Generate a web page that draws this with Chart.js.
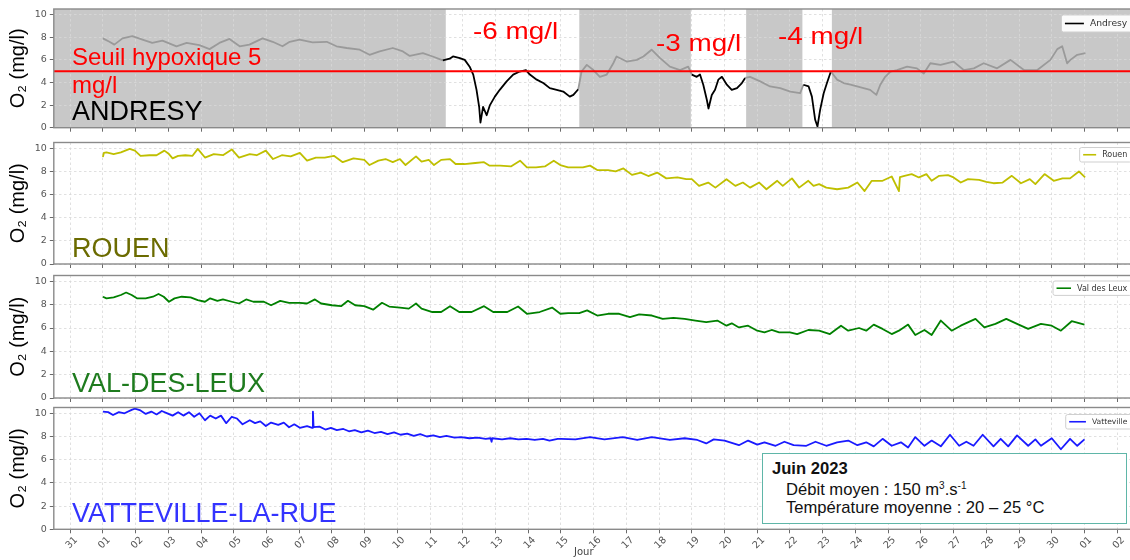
<!DOCTYPE html>
<html lang="fr">
<head>
<meta charset="utf-8">
<title>Oxygène dissous – Seine, juin 2023</title>
<script src="https://cdn.jsdelivr.net/npm/chart.js@4.4.1/dist/chart.umd.min.js"></script>
<style>
  html, body { margin: 0; padding: 0; background: #fff; }
  body { width: 1130px; height: 560px; overflow: hidden; position: relative;
         font-family: "Liberation Sans", Arial, sans-serif; }
  canvas.panel { position: absolute; left: 0; }
  .txt { position: absolute; white-space: nowrap; line-height: 1; }
  .station { font-size: 27px; }
  .red { color: #ff0000; font-size: 24px; }
  .drop { transform: scaleX(1.16); transform-origin: 0 0; }
  #info { position: absolute; left: 762px; top: 453px; width: 363px; height: 69px;
          border: 1.6px solid #5fb6a8; background: #fff; }
  #info .txt { font-size: 16.6px; color: #111; }
  .sup { position: relative; top: -6px; font-size: 10px; }
  #jour { font-family: "DejaVu Sans", sans-serif; font-size: 10px; color: #444; }
</style>
</head>
<body>
<canvas id="p1" class="panel" width="1140" height="136" style="top:0px"></canvas>
<canvas id="p2" class="panel" width="1140" height="140" style="top:134px"></canvas>
<canvas id="p3" class="panel" width="1140" height="141" style="top:267px"></canvas>
<canvas id="p4" class="panel" width="1140" height="162" style="top:398px"></canvas>

<div class="txt red" style="left:72px; top:44.7px">Seuil hypoxique 5</div>
<div class="txt red" style="left:72px; top:72.7px">mg/l</div>
<div class="txt station" style="left:72px; top:98.1px; color:#000">ANDRESY</div>
<div class="txt red drop" style="left:473px; top:18.6px">-6 mg/l</div>
<div class="txt red drop" style="left:656px; top:31px">-3 mg/l</div>
<div class="txt red drop" style="left:778px; top:24px">-4 mg/l</div>

<div class="txt station" style="left:72px; top:235.1px; color:#6b6b00">ROUEN</div>
<div class="txt station" style="left:72px; top:369.6px; color:#1e7b1e">VAL-DES-LEUX</div>
<div class="txt station" style="left:72px; top:500.4px; color:#3333ff">VATTEVILLE-LA-RUE</div>

<div id="info">
  <div class="txt" style="left:9px; top:7.4px; font-weight:bold">Juin 2023</div>
  <div class="txt" style="left:23px; top:27.8px">Débit moyen : 150 m<span class="sup">3</span>.s<span class="sup">-1</span></div>
  <div class="txt" style="left:23px; top:45.8px">Température moyenne : 20 – 25 °C</div>
</div>
<div id="jour" class="txt" style="left:574px; top:547px">Jour</div>

<script>
// ---- day axis: tick labels for days -1 (31 May) to 31 (2 July), x = days since 1 June 00:00
const dayLabels = ['31','01','02','03','04','05','06','07','08','09','10','11','12','13','14','15',
  '16','17','18','19','20','21','22','23','24','25','26','27','28','29','30','01','02'];

// ---- hypoxic threshold and hypoxic episodes at Andresy (start day, end day)
const hypoxiaThreshold = 5;
const hypoxiaWindows = [[10.48, 14.56], [17.97, 19.66], [21.38, 22.28]];

// ---- dissolved oxygen series, [day, O2 mg/l]
const andresySeries = [
  [0,7.9],[0.2,7.6],[0.35,7.35],[0.6,7.9],[0.9,8.1],[1.21,7.8],[1.51,7.5],[1.82,7.7],[2.25,7.2],[2.56,7.5],
  [2.95,7.3],[3.26,6.95],[3.56,7.5],[3.87,7.85],[4.18,7.2],[4.48,7.35],[4.88,7.9],[5.19,7.6],[5.49,7.2],[5.71,7.6],
  [6.01,7.8],[6.41,7.55],[6.84,7.6],[7.14,7.2],[7.45,7.05],[7.85,6.9],[8.15,6.45],[8.46,6.75],[8.86,7.05],[9.17,6.75],
  [9.38,6.35],[9.78,6.6],[10.08,6.3],[10.39,5.95],[10.6,6.1],[10.7,6.3],[10.91,6.15],[11.06,6.0],[11.21,5.4],[11.32,4.7],
  [11.42,3.35],[11.5,1.85],[11.54,0.45],[11.62,1.85],[11.73,1.1],[11.83,2.0],[11.98,2.75],[12.13,3.35],[12.34,4.1],[12.54,4.7],
  [12.74,4.97],[12.93,5.1],[13.05,4.7],[13.26,4.25],[13.46,3.95],[13.66,3.5],[13.87,3.35],[14.07,3.2],[14.27,2.75],[14.38,2.9],
  [14.53,3.4],[14.63,4.97],[14.79,5.56],[14.99,5.1],[15.19,4.5],[15.4,4.7],[15.6,5.7],[15.7,6.3],[16.01,5.85],[16.32,6.0],
  [16.52,6.3],[16.77,6.9],[17.03,6.15],[17.33,5.4],[17.64,5.1],[17.89,5.4],[18.0,4.7],[18.15,4.5],[18.25,4.7],[18.35,3.8],
  [18.46,2.45],[18.51,1.7],[18.61,2.9],[18.71,3.35],[18.81,4.25],[18.92,4.5],[19.07,3.8],[19.22,3.35],[19.38,3.5],[19.53,3.95],
  [19.63,4.4],[19.78,4.5],[20.09,4.1],[20.39,3.65],[20.7,3.5],[21.01,3.2],[21.31,3.05],[21.41,3.8],[21.57,3.65],[21.67,2.75],
  [21.77,0.7],[21.84,0.1],[21.92,1.55],[22.03,3.05],[22.13,3.95],[22.25,4.97],[22.44,4.25],[22.64,3.95],[22.85,3.8],[23.05,3.65],
  [23.25,3.5],[23.45,3.35],[23.64,2.9],[23.76,3.8],[23.91,4.5],[24.07,4.97],[24.27,5.1],[24.58,5.4],[24.88,5.25],[25.09,4.8],
  [25.29,5.7],[25.6,5.56],[26.0,5.85],[26.31,5.1],[26.62,5.25],[26.92,5.7],[27.33,5.25],[27.74,6.0],[28.15,5.1],[28.56,5.1],
  [28.96,6.0],[29.17,6.95],[29.32,7.2],[29.47,5.7],[29.57,6.0],[29.78,6.45],[30.03,6.6]
];

const rouenSeries = [
  [0,9.25],[0.03,9.6],[0.11,9.65],[0.33,9.5],[0.55,9.65],[0.82,9.95],[0.98,9.8],[1.15,9.35],[1.42,9.4],[1.64,9.4],
  [1.88,9.8],[2.02,9.5],[2.13,9.13],[2.3,9.35],[2.52,9.4],[2.74,9.35],[2.9,9.95],[3.12,9.2],[3.39,9.5],[3.67,9.4],
  [3.94,9.9],[4.16,9.2],[4.49,9.5],[4.7,9.4],[4.98,9.8],[5.2,9.07],[5.47,9.4],[5.74,9.3],[6.02,9.6],[6.24,8.93],
  [6.51,9.2],[6.78,9.2],[7.06,9.35],[7.33,8.8],[7.66,9.13],[7.99,9.0],[8.15,8.55],[8.42,8.93],[8.64,9.07],[8.86,8.8],
  [9.08,9.07],[9.25,8.55],[9.57,9.3],[9.74,8.84],[9.96,9.0],[10.12,8.55],[10.34,9.0],[10.61,9.07],[10.78,8.64],[11.05,8.64],
  [11.38,8.73],[11.65,8.8],[11.82,8.5],[12.14,8.5],[12.47,8.43],[12.75,8.93],[12.96,8.35],[13.24,8.35],[13.51,8.43],[13.78,8.93],
  [13.98,8.55],[14.22,8.35],[14.44,8.35],[14.67,8.35],[14.89,8.5],[15.11,8.12],[15.44,8.12],[15.67,8.0],[15.91,8.26],[16.17,7.7],
  [16.44,7.9],[16.67,7.6],[16.94,7.9],[17.22,7.4],[17.56,7.48],[17.83,7.33],[18.0,7.33],[18.22,6.75],[18.5,7.04],[18.72,6.6],
  [19.06,7.33],[19.33,6.75],[19.56,7.04],[19.78,6.6],[20.06,7.04],[20.28,6.46],[20.61,7.19],[20.78,6.75],[21.06,7.4],[21.28,6.6],
  [21.56,7.19],[21.72,6.75],[21.89,6.9],[22.11,6.6],[22.44,6.46],[22.78,6.6],[23.06,7.04],[23.28,6.3],[23.5,7.19],[23.83,7.19],
  [24.11,7.56],[24.33,6.3],[24.36,7.5],[24.5,7.62],[24.72,7.77],[24.94,7.48],[25.17,7.77],[25.33,7.19],[25.56,7.62],[25.83,7.68],
  [26.0,7.48],[26.22,7.04],[26.44,7.33],[26.78,7.27],[27.0,7.1],[27.22,6.98],[27.5,7.04],[27.78,7.62],[28.06,6.98],[28.33,7.33],
  [28.5,6.9],[28.78,7.77],[29.06,7.19],[29.33,7.4],[29.56,7.4],[29.83,8.0],[30.02,7.48]
];

const valDesLeuxSeries = [
  [0,8.68],[0.11,8.54],[0.33,8.63],[0.55,8.83],[0.71,9.04],[0.88,8.83],[1.04,8.54],[1.31,8.54],[1.53,8.68],[1.7,8.92],
  [1.86,8.68],[2.02,8.25],[2.19,8.54],[2.41,8.68],[2.68,8.63],[2.9,8.39],[3.12,8.25],[3.28,8.54],[3.5,8.33],[3.67,8.45],
  [3.94,8.25],[4.16,8.1],[4.38,8.45],[4.6,8.25],[4.92,8.25],[5.14,7.95],[5.42,8.33],[5.69,8.16],[6.02,8.16],[6.24,8.1],
  [6.48,8.45],[6.67,8.1],[7.0,7.95],[7.28,7.87],[7.49,8.33],[7.71,7.95],[7.99,7.87],[8.26,7.57],[8.53,8.16],[8.75,7.84],
  [9.08,7.75],[9.35,7.66],[9.57,8.1],[9.74,7.66],[10.07,7.37],[10.34,7.37],[10.61,7.87],[10.89,7.37],[11.27,7.37],[11.65,7.87],
  [11.93,7.37],[12.36,7.37],[12.69,7.84],[12.96,7.22],[13.35,7.37],[13.73,7.75],[13.98,7.22],[14.22,7.28],[14.56,7.28],[14.8,7.51],
  [15.11,7.07],[15.44,7.22],[15.78,7.22],[16.11,6.93],[16.39,7.16],[16.78,7.07],[17.11,6.78],[17.44,6.87],[17.78,6.78],[18.11,6.64],
  [18.44,6.5],[18.78,6.64],[19.06,6.2],[19.22,6.4],[19.44,6.05],[19.72,6.2],[20.0,5.77],[20.22,5.63],[20.44,5.83],[20.67,5.63],
  [21.0,5.63],[21.22,5.48],[21.56,5.83],[21.89,5.77],[22.22,5.48],[22.56,6.2],[22.78,5.77],[23.11,6.0],[23.33,5.77],[23.56,6.29],
  [23.83,5.92],[24.11,5.48],[24.33,5.77],[24.61,6.29],[24.83,5.4],[25.11,5.83],[25.33,5.4],[25.61,6.64],[25.94,5.77],[26.22,6.2],
  [26.67,6.78],[26.94,6.05],[27.28,6.35],[27.61,6.78],[27.94,6.35],[28.28,5.92],[28.67,6.35],[29.0,6.2],[29.28,5.77],[29.61,6.58],
  [30.0,6.29]
];

const vattevilleSeries = [
  [0,10.15],[0.16,10.1],[0.31,9.85],[0.49,10.1],[0.66,10.0],[0.88,10.3],[0.98,10.4],[1.15,10.25],[1.31,9.95],[1.48,10.15],
  [1.64,9.9],[1.8,10.2],[1.97,10.0],[2.13,9.8],[2.3,10.1],[2.46,9.8],[2.63,10.1],[2.79,9.7],[2.95,10.0],[3.12,9.4],
  [3.28,9.8],[3.45,9.55],[3.61,9.8],[3.77,9.15],[3.94,9.7],[4.1,9.55],[4.27,9.05],[4.49,9.4],[4.65,9.15],[4.81,9.3],
  [4.98,8.9],[5.14,9.2],[5.36,9.0],[5.53,9.2],[5.69,8.8],[5.85,9.05],[6.02,8.75],[6.24,8.9],[6.4,8.75],[6.42,10.15],
  [6.44,8.8],[6.62,8.85],[6.8,8.6],[6.97,8.75],[7.15,8.55],[7.35,8.65],[7.52,8.45],[7.7,8.55],[7.9,8.35],[8.1,8.5],
  [8.3,8.3],[8.5,8.4],[8.7,8.2],[8.9,8.35],[9.1,8.15],[9.3,8.25],[9.5,8.05],[9.7,8.2],[9.9,8.0],[10.1,8.1],
  [10.3,7.95],[10.5,8.05],[10.75,7.9],[10.95,7.95],[11.2,7.85],[11.45,7.9],[11.7,7.8],[11.85,7.85],[11.88,7.55],[11.9,7.85],
  [12.2,7.75],[12.45,7.85],[12.7,7.75],[12.95,7.8],[13.2,7.7],[13.45,7.8],[13.65,7.65],[13.9,7.8],[14.0,7.8],[14.44,7.75],
  [14.89,7.95],[15.33,7.75],[15.89,7.95],[16.33,7.7],[16.78,7.95],[17.33,7.7],[17.78,7.85],[18.17,7.7],[18.44,7.4],[18.67,7.75],
  [19.0,7.65],[19.44,7.25],[19.72,7.65],[20.0,7.3],[20.22,7.5],[20.56,7.2],[20.83,7.55],[21.11,7.25],[21.5,7.2],[21.78,7.55],
  [22.11,7.2],[22.44,7.5],[22.78,7.65],[23.06,7.25],[23.33,7.5],[23.56,7.15],[23.83,7.8],[24.11,7.2],[24.39,7.5],[24.61,7.05],
  [24.83,7.95],[25.11,7.2],[25.33,7.65],[25.61,7.15],[25.89,8.15],[26.17,7.2],[26.39,7.55],[26.61,7.2],[26.89,8.15],[27.22,7.15],
  [27.44,7.8],[27.67,7.15],[27.94,8.1],[28.28,7.2],[28.5,7.75],[28.67,7.2],[29.0,7.85],[29.28,6.9],[29.56,7.8],[29.78,7.2],
  [30.0,7.75]
];

// ---- shared axis geometry
const X_MIN = -1.5, X_MAX = 31.6, Y_MAX = 10.5;
const AXIS_W = 53.8;     // width of the y-axis band = left edge of every plot
const PAD_RIGHT = 3.2;

const toPoints = s => s.map(([x, y]) => ({ x, y }));
const inWindow = d => hypoxiaWindows.some(([s, e]) => d >= s && d <= e);

Chart.defaults.font.family = '"DejaVu Sans", sans-serif';

// grey background with white hypoxic episodes (Andresy panel)
const hypoxiaShading = {
  id: 'hypoxiaShading',
  beforeDraw(chart) {
    const { ctx, chartArea: a, scales: { x } } = chart;
    ctx.save();
    ctx.fillStyle = '#c8c8c8';
    ctx.fillRect(a.left, a.top, a.right - a.left, a.bottom - a.top);
    ctx.fillStyle = '#ffffff';
    hypoxiaWindows.forEach(([s, e]) => {
      const x0 = x.getPixelForValue(s), x1 = x.getPixelForValue(e);
      ctx.fillRect(x0, a.top, x1 - x0, a.bottom - a.top);
    });
    ctx.restore();
  }
};

// box around each plot area
const panelFrame = {
  id: 'panelFrame',
  afterDatasetsDraw(chart) {
    const { ctx, chartArea: a } = chart;
    ctx.save();
    ctx.strokeStyle = '#8a8a8a';
    ctx.lineWidth = 1.4;
    ctx.strokeRect(a.left, a.top, a.right - a.left, a.bottom - a.top);
    ctx.restore();
  }
};

// small legend box in the upper-right corner of the plot
const insideLegend = {
  id: 'insideLegend',
  afterDraw(chart, _args, o) {
    if (!o || !o.fontSize) return;
    const { ctx, chartArea: a } = chart;
    const text = chart.data.datasets[0].label;
    ctx.save();
    ctx.font = o.fontSize + 'px "DejaVu Sans"';
    const tw = ctx.measureText(text).width;
    const textRight = a.right - 9.5;
    const textLeft = textRight - tw;
    const lineR = textLeft - 6, lineL = lineR - o.lineLen;
    const bx = lineL - 3.5, by = a.top + o.offsetTop, bw = textRight + 4.5 - bx, bh = o.boxH;
    ctx.fillStyle = 'rgba(255,255,255,0.92)';
    ctx.strokeStyle = '#cfcfcf';
    ctx.lineWidth = 1;
    ctx.beginPath();
    ctx.roundRect(bx, by, bw, bh, 2);
    ctx.fill();
    ctx.stroke();
    ctx.strokeStyle = o.color;
    ctx.lineWidth = 1.6;
    ctx.beginPath();
    ctx.moveTo(lineL, by + bh / 2);
    ctx.lineTo(lineR, by + bh / 2);
    ctx.stroke();
    ctx.fillStyle = '#333';
    ctx.textBaseline = 'middle';
    ctx.fillText(text, textLeft, by + bh / 2 + 0.5);
    ctx.restore();
  }
};

function panelOptions(p) {
  const gridCommon = { color: '#d8d8d8', lineWidth: 0.8, drawTicks: true, tickLength: 4,
                       tickColor: '#6a6a6a', tickWidth: 1 };
  return {
    responsive: false,
    animation: false,
    devicePixelRatio: 1,
    layout: { padding: { top: p.padTop, right: PAD_RIGHT, bottom: 0, left: 0 } },
    plugins: {
      legend: { display: false },
      tooltip: { enabled: false },
      insideLegend: p.legend
    },
    scales: {
      x: {
        type: 'linear', min: X_MIN, max: X_MAX,
        afterFit(s) { s.height = p.xAxisH; s.paddingLeft = 0; s.paddingRight = 0; },
        ticks: {
          display: p.showLabels, stepSize: 1, includeBounds: false, autoSkip: false, maxTicksLimit: 100,
          minRotation: 45, maxRotation: 45, labelOffset: 6, padding: 1,
          font: { size: 9.8 }, color: '#555',
          callback: v => dayLabels[v + 1] ?? ''
        },
        grid: gridCommon,
        border: { display: false, dash: [2.5, 2.5] }
      },
      y: {
        min: 0, max: Y_MAX,
        afterFit(s) { s.width = AXIS_W; s.paddingTop = 0; s.paddingBottom = 0; },
        ticks: { stepSize: 2, includeBounds: false, font: { size: 9.5 }, color: '#555', padding: 3 },
        grid: gridCommon,
        border: { display: false, dash: [2.5, 2.5] },
        title: { display: true, text: 'O₂ (mg/l)', color: '#000',
                 font: { family: '"Liberation Sans", Arial, sans-serif', size: 20 },
                 padding: { top: 6, bottom: 0 } }
      }
    }
  };
}

function lineDataset(label, series, color, extra) {
  return Object.assign({
    label, data: toPoints(series), borderColor: color, borderWidth: 1.8,
    pointRadius: 0, tension: 0, borderJoinStyle: 'round', order: 1
  }, extra || {});
}

// Andresy, with the hypoxic threshold
new Chart(document.getElementById('p1'), {
  type: 'line',
  data: {
    datasets: [
      lineDataset('Andresy', andresySeries, '#9a9a9a', {
        segment: { borderColor: c => inWindow((c.p0.parsed.x + c.p1.parsed.x) / 2) ? '#000000' : '#9a9a9a' }
      }),
      { label: 'Seuil hypoxique', data: [{ x: X_MIN, y: hypoxiaThreshold }, { x: X_MAX, y: hypoxiaThreshold }],
        borderColor: '#ff0000', borderWidth: 2, pointRadius: 0, order: 0 }
    ]
  },
  options: panelOptions({ padTop: 9, xAxisH: 8.3, showLabels: false,
    legend: { fontSize: 9.2, lineLen: 19, boxH: 17, offsetTop: 6, color: '#000' } }),
  plugins: [hypoxiaShading, panelFrame, insideLegend]
});

new Chart(document.getElementById('p2'), {
  type: 'line',
  data: { datasets: [lineDataset('Rouen', rouenSeries, '#bfbf00')] },
  options: panelOptions({ padTop: 8.5, xAxisH: 10, showLabels: false,
    legend: { fontSize: 8, lineLen: 13, boxH: 14.5, offsetTop: 5, color: '#bfbf00' } }),
  plugins: [panelFrame, insideLegend]
});

new Chart(document.getElementById('p3'), {
  type: 'line',
  data: { datasets: [lineDataset('Val des Leux', valDesLeuxSeries, '#008000')] },
  options: panelOptions({ padTop: 8.5, xAxisH: 10, showLabels: false,
    legend: { fontSize: 8, lineLen: 14.5, boxH: 14.4, offsetTop: 5.5, color: '#008000' } }),
  plugins: [panelFrame, insideLegend]
});

new Chart(document.getElementById('p4'), {
  type: 'line',
  data: { datasets: [lineDataset('Vatteville', vattevilleSeries, '#1a1aff')] },
  options: panelOptions({ padTop: 9.5, xAxisH: 30.7, showLabels: true,
    legend: { fontSize: 7.6, lineLen: 16.7, boxH: 14.5, offsetTop: 7, color: '#1a1aff' } }),
  plugins: [panelFrame, insideLegend]
});
</script>
</body>
</html>
